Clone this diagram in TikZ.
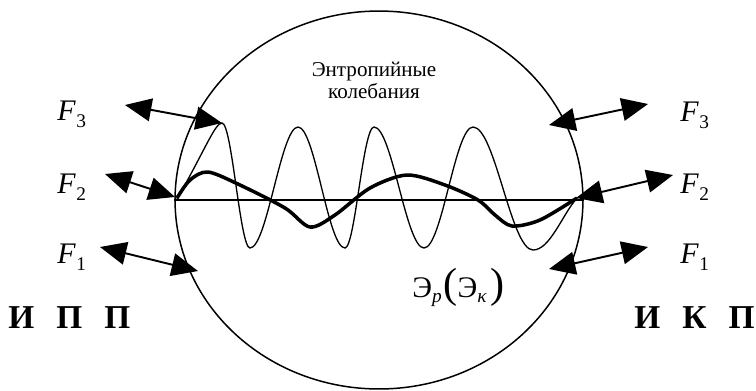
\documentclass[tikz,border=0pt]{standalone}
\usepackage{fontspec}
\setmainfont{Liberation Serif}
\newfontfamily\lserif{Liberation Serif}
\usetikzlibrary{arrows.meta,shapes.geometric}
\tikzset{
  every node/.append style={font=\lserif},
  dblarr/.style={{Triangle[length=15pt,width=13pt]}-{Triangle[length=15pt,width=13pt]},line width=1.1pt},
  flbl/.style={font=\lserif\fontsize{17}{17}\selectfont,inner sep=0pt,anchor=base west},
  sidelbl/.style={font=\lserif\fontsize{19}{19}\selectfont\bfseries,inner sep=0pt},
  wave/.style={line width=0.75pt},
  slowwave/.style={line width=2pt,line join=round}
}
\newcommand{\flab}[1]{\textit{F}\kern0.3pt\raisebox{-4.5pt}{\fontsize{11}{11}\selectfont #1}}
\newcommand{\sub}[1]{\raisebox{-3pt}{\fontsize{11}{11}\selectfont\itshape #1}}

\begin{document}
\begin{tikzpicture}[x=0.02cm,y=-0.02cm]
  \useasboundingbox (0,0) rectangle (756,390);

  % Region
  \node[draw,ellipse,line width=0.85pt,inner sep=0pt,minimum width=8.16cm,minimum height=7.56cm] (cell) at (379,200) {};
  \draw[line width=0.9pt] (cell.west) -- (cell.east);

  % Entropy oscillations
  \node[font=\lserif\fontsize{12}{12.5}\selectfont,align=center,inner sep=0pt] (ent) at (374,80) {Энтропийные\\колебания};
  \draw[wave] (177,199) .. controls (205,150) and (215,123) .. (222,123)
    .. controls (232,123) and (240,248) .. (250,248)
    .. controls (267,248) and (281,127) .. (298,127)
    .. controls (315,127) and (328,248) .. (345,248)
    .. controls (355,248) and (363,127) .. (374,127)
    .. controls (392,127) and (406,248) .. (424,248)
    .. controls (442,248) and (455,127) .. (473,127)
    .. controls (495,127) and (511,250) .. (533,250)
    .. controls (550,250) and (562,215) .. (577,198);
  \draw[slowwave] plot[smooth,tension=0.5] coordinates {(177,198) (190,180) (208,172) (240,185) (285,208) (310,227) (335,215) (370,188) (407,175) (445,185) (478,200) (495,215) (512,226) (540,220) (577,198)};
  \node[font=\lserif\fontsize{17}{17}\selectfont,inner sep=0pt,anchor=base west] (energy) at (412,297)
    {Э\sub{p}\kern1pt{\fontsize{24}{24}\selectfont(}Э\sub{κ}\kern2pt{\fontsize{24}{24}\selectfont)}};

  % Flows, left side
  \coordinate (f3l-out) at (125,105);
  \coordinate (f3l-in) at (222,123);
  \coordinate (f2l-out) at (105,174);
  \coordinate (f2l-in) at (175,197);
  \coordinate (f1l-out) at (100,247);
  \coordinate (f1l-in) at (198,271);
  \draw[dblarr] (f3l-out) -- (f3l-in);
  \draw[dblarr] (f2l-out) -- (f2l-in);
  \draw[dblarr] (f1l-out) -- (f1l-in);
  \node[flbl] (f3l) at (57,120) {\flab{3}};
  \node[flbl] (f2l) at (57,193) {\flab{2}};
  \node[flbl] (f1l) at (57,263) {\flab{1}};

  % Flows, right side
  \coordinate (f3r-out) at (648,104);
  \coordinate (f3r-in) at (549,125);
  \coordinate (f2r-out) at (673,175);
  \coordinate (f2r-in) at (576,198);
  \coordinate (f1r-out) at (648,247);
  \coordinate (f1r-in) at (549,269);
  \draw[dblarr] (f3r-out) -- (f3r-in);
  \draw[dblarr] (f2r-out) -- (f2r-in);
  \draw[dblarr] (f1r-out) -- (f1r-in);
  \node[flbl] (f3r) at (680,121) {\flab{3}};
  \node[flbl] (f2r) at (680,193) {\flab{2}};
  \node[flbl] (f1r) at (680,263) {\flab{1}};

  % Side captions
  \node[sidelbl,anchor=base west] (ipp) at (8,328) {И\hspace{0.66em}П\hspace{0.66em}П};
  \node[sidelbl,anchor=base east] (ikp) at (755,328) {И\hspace{0.66em}К\hspace{0.66em}П};
\end{tikzpicture}
\end{document}
